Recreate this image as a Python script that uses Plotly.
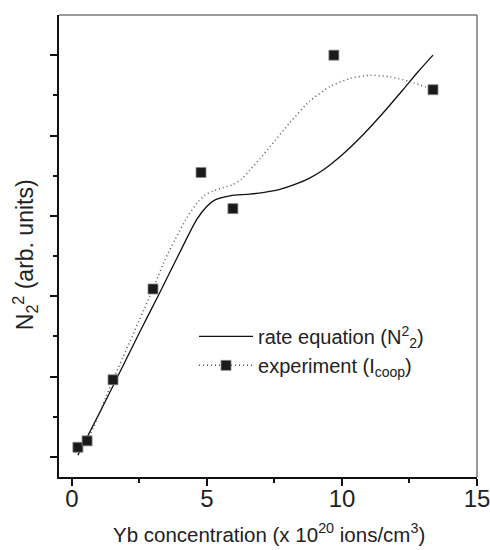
import plotly.graph_objects as go

# experimental points (Yb conc. x1e20 ions/cm3, N2^2 arb. units)
exp_x = [0.22, 0.56, 1.52, 3.0, 4.78, 5.96, 9.7, 13.37]
exp_y = [0.12, 0.20, 0.96, 2.09, 3.54, 3.09, 5.00, 4.57]

# rate equation curve
rate_x = [0.22, 1.04, 1.78, 2.52, 3.26, 4.00, 4.63, 5.00, 5.30, 5.85, 6.59, 7.07, 7.70, 8.33, 8.80, 9.30, 10.04, 10.78, 11.52, 12.26, 12.81, 13.37]
rate_y = [0.02, 0.56, 1.06, 1.56, 2.05, 2.55, 2.96, 3.12, 3.20, 3.25, 3.27, 3.29, 3.33, 3.40, 3.47, 3.57, 3.77, 4.01, 4.28, 4.57, 4.79, 5.00]

# experiment fit (dotted) curve
fit_x = [0.22, 0.56, 1.52, 3.00, 3.44, 3.81, 4.26, 4.63, 4.93, 5.22, 5.59, 5.96, 6.26, 6.59, 6.96, 7.33, 8.07, 8.81, 9.56, 10.30, 11.04, 11.78, 12.52, 13.37]
fit_y = [0.12, 0.21, 0.96, 2.09, 2.45, 2.70, 2.98, 3.16, 3.26, 3.31, 3.35, 3.39, 3.45, 3.57, 3.71, 3.86, 4.16, 4.43, 4.61, 4.71, 4.75, 4.73, 4.67, 4.57]

FONT = "Liberation Sans, Arial, sans-serif"
TICKFONT = "Liberation Sans Narrow, Arial Narrow, Liberation Sans, sans-serif"
INK = "#222222"
MARK = dict(symbol="square", size=10, color="#1a1a1a", line=dict(color="#888888", width=0.8))
DOT = dict(color="#555555", width=1.5, dash="1px,3px")

fig = go.Figure()
fig.add_trace(go.Scatter(x=rate_x, y=rate_y, mode="lines",
                         line=dict(color="#111111", width=1.3, shape="spline", smoothing=0.9),
                         name="rate equation (N<sup>2</sup><sub>2</sub>)"))
fig.add_trace(go.Scatter(x=fit_x, y=fit_y, mode="lines", line=dict(DOT, shape="spline", smoothing=0.6),
                         showlegend=False, hoverinfo="skip"))
fig.add_trace(go.Scatter(x=exp_x, y=exp_y, mode="markers", showlegend=False, marker=MARK))
# legend proxy for the experiment entry
fig.add_trace(go.Scatter(x=[None], y=[None], mode="lines+markers", name="experiment (I<sub>coop</sub>)",
                         line=DOT, marker=MARK))

fig.update_layout(
    width=490, height=550,
    margin=dict(l=59, r=13, t=15, b=73),
    paper_bgcolor="white", plot_bgcolor="white",
    font=dict(family=FONT, color=INK),
    showlegend=True,
    legend=dict(x=0.323, y=0.273, xanchor="left", yanchor="middle", bgcolor="rgba(0,0,0,0)",
                font=dict(size=20, family=FONT, color=INK), itemwidth=54, tracegroupgap=0),
    xaxis=dict(range=[-0.48, 15], showgrid=False, zeroline=False, automargin=False,
               showline=True, linecolor="#111111", linewidth=2,
               ticks="outside", ticklen=7, tickwidth=1.5, tickcolor="#111111",
               tickvals=[0, 5, 10, 15], ticktext=["0", "5", "10", "15"],
               tickfont=dict(size=24, family=TICKFONT, color=INK), ticklabelstandoff=-8,
               ticklabeloverflow="allow",
               minor=dict(tickvals=[2.5, 7.5, 12.5], ticks="outside", ticklen=4, tickwidth=1.5, tickcolor="#111111")),
    yaxis=dict(range=[-0.25, 5.5], showgrid=False, zeroline=False, automargin=False,
               showline=True, linecolor="#111111", linewidth=2,
               ticks="outside", ticklen=7, tickwidth=1.5, tickcolor="#111111",
               tickvals=[0, 1, 2, 3, 4, 5], showticklabels=False,
               minor=dict(tickvals=[0.5, 1.5, 2.5, 3.5, 4.5], ticks="outside", ticklen=4, tickwidth=1.5, tickcolor="#111111")),
    annotations=[
        dict(text="Yb concentration (x 10<sup>20</sup> ions/cm<sup>3</sup>)", xref="paper", yref="paper",
             x=0.502, y=0, yshift=-56, xanchor="center", yanchor="middle", showarrow=False,
             font=dict(size=20.5, family=FONT, color=INK)),
        dict(text="N<sub>2</sub><sup>2</sup> (arb. units)", xref="paper", yref="paper",
             x=0, xshift=-34, y=0.48, xanchor="center", yanchor="middle", textangle=-90, showarrow=False,
             font=dict(size=23, family=FONT, color=INK)),
    ],
    shapes=[
        dict(type="line", xref="paper", yref="paper", x0=0, x1=1, y0=1, y1=1, line=dict(color="#777777", width=1.5)),
        dict(type="line", xref="paper", yref="paper", x0=1, x1=1, y0=0, y1=1, line=dict(color="#777777", width=1.5)),
    ],
)

fig.write_html("out.html", config={"displayModeBar": False},
               post_script="document.body.style.margin='0';")
